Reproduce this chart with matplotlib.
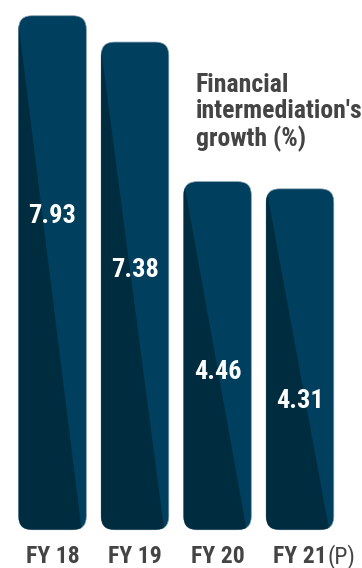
import matplotlib
matplotlib.use('Agg')
import matplotlib.pyplot as plt
from matplotlib.patches import FancyBboxPatch, Polygon

# data
years = ['FY 18', 'FY 19', 'FY 20', 'FY 21']
growth = [7.93, 7.38, 4.46, 4.31]
label_y = [3.74, 2.61, 0.48, -0.13]     # where the value text sits in each bar
title = "Financial\nintermediation's\ngrowth (%)"

base = -2.82                            # bars start below zero
bar_w = 0.82
light = '#003f5e'
dark = '#002c40'
grey = '#444444'
font = ['Liberation Sans Narrow', 'Roboto Condensed', 'DejaVu Sans']

plt.rcParams['font.family'] = font

fig = plt.figure(figsize=(3.62, 5.68), dpi=100)
ax = fig.add_axes([0, 0, 1, 1])
ax.set_xlim(-0.636, 3.752)
ax.set_ylim(-3.62, 8.26)
ax.axis('off')

xlabels = []
for i, v in enumerate(growth):
    x0 = i - bar_w / 2
    bar = FancyBboxPatch((x0, base), bar_w, v - base,
                         boxstyle='round,pad=0,rounding_size=0.16',
                         mutation_aspect=1.73, facecolor=light,
                         edgecolor='#7d98a6', linewidth=0.5, zorder=2)
    ax.add_patch(bar)
    # darker diagonal wedge on the left of each bar
    shade = Polygon([(x0 - 0.05, v + 0.5), (x0 + 0.93 * bar_w, base),
                     (x0 - 0.05, base)], closed=True, facecolor=dark,
                    edgecolor='none', zorder=3)
    ax.add_patch(shade)
    shade.set_clip_path(bar)
    ax.text(i, label_y[i], '%.2f' % v, color='white', fontsize=19,
            fontweight='bold', ha='center', va='center', zorder=4)
    t = ax.text(i, -3.37, years[i], color=grey, fontsize=17,
                fontweight='bold', ha='center', va='center')
    xlabels.append(t)

# "(P)" sits right after the last year label
fig.canvas.draw()
ext = xlabels[-1].get_window_extent()
fig.text(ext.x1 / 362 + 0.002, (ext.y0 + ext.y1) / 2 / 568, '(P)',
         color=grey, fontsize=17, ha='left', va='center')

fig.text(196 / 362, 1 - 73 / 568, title, color=grey, fontsize=18.5,
         fontweight='bold', ha='left', va='top', linespacing=1.12)

fig.savefig('out.png', dpi=100)
